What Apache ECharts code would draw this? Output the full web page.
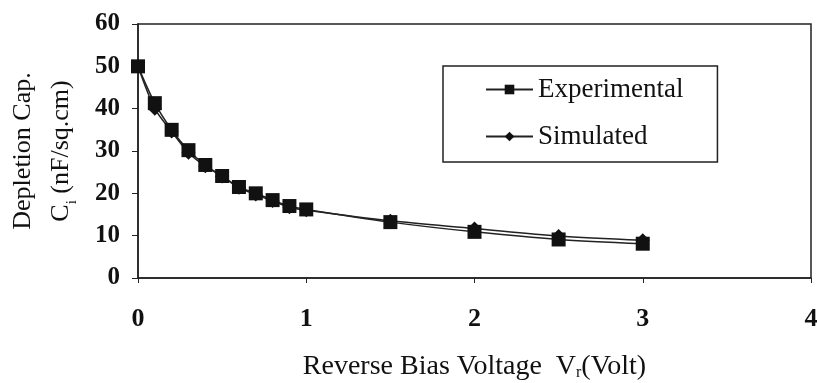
<!DOCTYPE html>
<html>
<head>
<meta charset="utf-8">
<script src="https://cdn.jsdelivr.net/npm/echarts@6/dist/echarts.min.js"></script>
<style>
  html, body { margin: 0; padding: 0; background: #fff; }
  #chart { width: 817px; height: 383px; }
</style>
</head>
<body>
<div id="chart"></div>
<script>
// reverse bias voltage (V)
const voltage = [0, 0.1, 0.2, 0.3, 0.4, 0.5, 0.6, 0.7, 0.8, 0.9, 1.0, 1.5, 2, 2.5, 3];
// depletion capacitance (nF/sq.cm)
const experimental = [50, 41.3, 35, 30.2, 26.7, 24.1, 21.5, 20, 18.4, 17, 16.2, 13.2, 10.9, 9.1, 8.1];
const simulated = [50, 40, 34.6, 29.6, 26.4, 24, 21.3, 19.7, 18.2, 16.7, 16, 13.5, 11.7, 9.9, 8.9];
const xTicks = [0, 1, 2, 3, 4];

const font = '"Liberation Serif", "DejaVu Serif", serif';

const toPairs = ys => voltage.map((v, i) => [v, ys[i]]);

const chart = echarts.init(document.getElementById('chart'));
chart.setOption({
    animation: false,
    textStyle: { fontFamily: font, color: '#111' },
    grid: {
        left: 138, right: 6, top: 24, bottom: 105,
        outerBoundsMode: 'none',
        containLabel: false,
        show: true, borderColor: '#222', borderWidth: 1.5, backgroundColor: 'transparent'
    },
    legend: {
        orient: 'vertical',
        left: 443, top: 66,
        padding: [10, 34, 12, 42],
        itemGap: 20,
        itemWidth: 47, itemHeight: 12,
        borderColor: '#222', borderWidth: 1.5,
        textStyle: { fontFamily: font, fontSize: 27, color: '#111', padding: [0, 0, 0, 0] },
        data: ['Experimental', 'Simulated']
    },
    xAxis: {
        type: 'value',
        min: 0, max: 4, interval: 1,
        name: 'Reverse Bias Voltage  {v|V}{s|r}{v|(Volt)}',
        nameLocation: 'middle',
        nameGap: 75,
        nameTextStyle: {
            fontFamily: font, fontSize: 28, color: '#111',
            rich: {
                v: { fontFamily: font, fontSize: 28, color: '#111' },
                s: { fontFamily: font, fontSize: 16, color: '#111', verticalAlign: 'bottom', padding: [10, 0, 0, 0] }
            }
        },
        axisLine: { lineStyle: { color: '#222', width: 1.5 } },
        axisTick: { show: true, inside: false, length: 5, lineStyle: { color: '#222' } },
        axisLabel: {
            margin: 28, fontSize: 26, fontWeight: 'bold', color: '#111',
            formatter: v => xTicks.includes(v) ? String(v) : ''
        },
        splitLine: { show: false }
    },
    yAxis: {
        type: 'value',
        min: 0, max: 60, interval: 10,
        name: 'Depletion Cap.\n{v|C}{s|i}{v| (nF/sq.cm)}',
        nameLocation: 'middle',
        nameRotate: 90,
        nameGap: 58,
        nameTextStyle: {
            fontFamily: font, fontSize: 26, color: '#111', lineHeight: 38,
            rich: {
                v: { fontFamily: font, fontSize: 26, color: '#111', lineHeight: 38 },
                s: { fontFamily: font, fontSize: 15, color: '#111', lineHeight: 38, verticalAlign: 'bottom' }
            }
        },
        axisLine: { show: true, lineStyle: { color: '#222', width: 1.5 } },
        axisTick: { show: true, inside: false, length: 6, lineStyle: { color: '#222' } },
        axisLabel: { margin: 18, fontSize: 25, fontWeight: 'bold', color: '#111' },
        splitLine: { show: false }
    },
    series: [
        {
            name: 'Simulated',
            type: 'line',
            data: toPairs(simulated),
            smooth: 0.3,
            symbol: 'diamond',
            symbolSize: 14,
            itemStyle: { color: '#111' },
            lineStyle: { color: '#222', width: 1.5 }
        },
        {
            name: 'Experimental',
            type: 'line',
            data: toPairs(experimental),
            smooth: 0.3,
            symbol: 'rect',
            symbolSize: 14,
            itemStyle: { color: '#111' },
            lineStyle: { color: '#222', width: 1.5 }
        }
    ]
});
</script>
</body>
</html>
